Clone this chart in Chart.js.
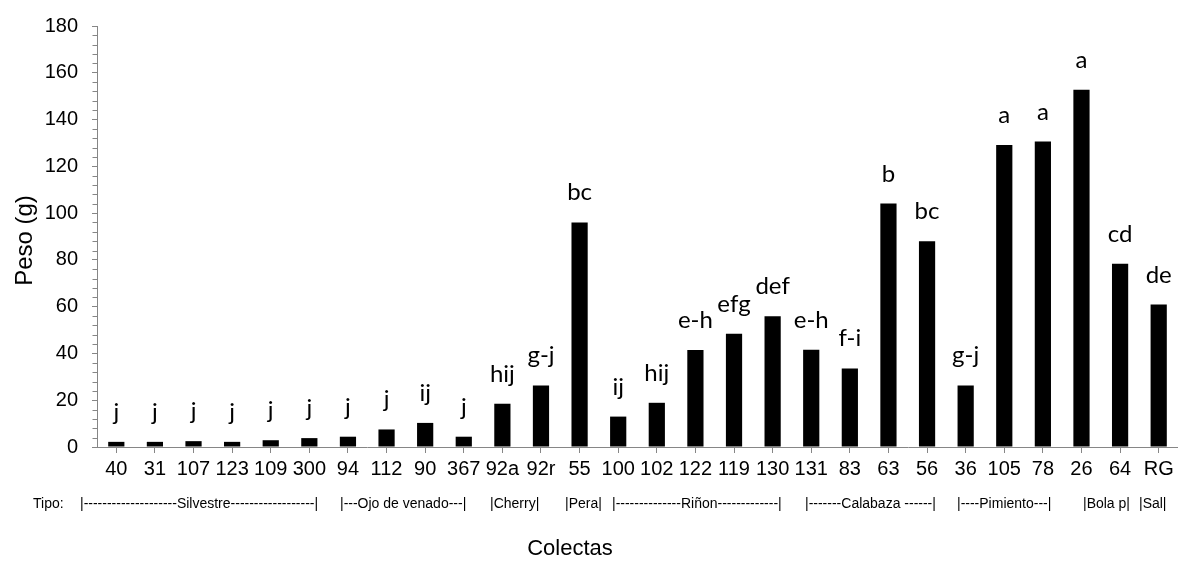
<!DOCTYPE html>
<html>
<head>
<meta charset="utf-8">
<script src="https://cdn.jsdelivr.net/npm/chart.js@4/dist/chart.umd.min.js"></script>
<style>
  html, body { margin: 0; padding: 0; background: #ffffff; }
  #wrap { width: 1178px; height: 564px; position: relative; }
</style>
</head>
<body>
<div id="wrap"><canvas id="grafico"></canvas></div>
<script>
// Colectas (accessions) on the x axis
const colectas = ['40','31','107','123','109','300','94','112','90','367','92a','92r','55',
  '100','102','122','119','130','131','83','63','56','36','105','78','26','64','RG'];

// Mean fruit weight (g) per accession
const peso = [2.2, 2.2, 2.5, 2.2, 2.9, 3.8, 4.4, 7.5, 10.3, 4.4, 18.5, 26.3, 96.0,
  13.0, 18.9, 41.5, 48.4, 55.9, 41.6, 33.6, 104.1, 88.0, 26.3, 129.1, 130.6, 152.7, 78.4, 60.9];

// Mean-separation letters printed above each bar
const letras = ['j','j','j','j','j','j','j','j','ij','j','hij','g-j','bc',
  'ij','hij','e-h','efg','def','e-h','f-i','b','bc','g-j','a','a','a','cd','de'];

// Fruit type row under the axis
const tipos = ['Tipo:', '|--------------------Silvestre------------------|', '|---Ojo de venado---|',
  '|Cherry|', '|Pera|', '|--------------Riñon-------------|', '|-------Calabaza ------|',
  '|----Pimiento---|', '|Bola p|', '|Sal|'];

// Value axis range
const yMin = 0, yMax = 180, yPaso = 20, yPasoMenor = 4;

const gris = '#868686';
const fuenteEje = 'Liberation Sans, Arial, sans-serif';
const fuenteLetras = 'Lato, Carlito, Calibri, sans-serif';

// Left edges of the fruit-type captions
const tipoX = [33, 80, 340, 490, 565, 612, 805, 957, 1083, 1139];

const extras = {
  id: 'extras',
  afterDraw(chart) {
    const ctx = chart.ctx;
    const y = chart.scales.y;
    const meta = chart.getDatasetMeta(0);
    ctx.save();

    // minor tick marks on the value axis
    ctx.strokeStyle = gris;
    ctx.lineWidth = 1;
    const ax = Math.round(chart.chartArea.left) + 0.5;
    for (let v = yMin; v <= yMax; v += yPasoMenor) {
      if (v % yPaso === 0) continue;
      const py = Math.round(y.getPixelForValue(v)) + 0.5;
      ctx.beginPath();
      ctx.moveTo(ax - 5, py);
      ctx.lineTo(ax, py);
      ctx.stroke();
    }

    // letters above bars
    ctx.fillStyle = '#000';
    ctx.font = '24px ' + fuenteLetras;
    ctx.textAlign = 'center';
    ctx.textBaseline = 'alphabetic';
    meta.data.forEach((bar, i) => {
      ctx.fillText(letras[i], bar.x, bar.y - 22);
    });

    // fruit type row
    ctx.font = '14px ' + fuenteEje;
    ctx.textAlign = 'left';
    ctx.textBaseline = 'middle';
    tipos.forEach((t, i) => ctx.fillText(t, tipoX[i], 504));

    // axis titles
    ctx.font = '22px ' + fuenteEje;
    ctx.textAlign = 'center';
    ctx.fillText('Colectas', 570, 549);
    ctx.font = '24px ' + fuenteEje;
    ctx.translate(25, (chart.chartArea.top + chart.chartArea.bottom) / 2 + 4);
    ctx.rotate(-Math.PI / 2);
    ctx.fillText('Peso (g)', 0, 0);
    ctx.restore();
  }
};

new Chart(document.getElementById('grafico'), {
  type: 'bar',
  data: {
    labels: colectas,
    datasets: [{
      data: peso,
      backgroundColor: '#000000',
      borderWidth: 0,
      barPercentage: 0.42,
      categoryPercentage: 1.0
    }]
  },
  options: {
    responsive: true,
    maintainAspectRatio: false,
    animation: false,
    layout: { padding: { top: 22, right: 0, left: 0, bottom: 0 } },
    plugins: { legend: { display: false }, tooltip: { enabled: false } },
    scales: {
      x: {
        offset: true,
        grid: { offset: false, drawOnChartArea: false, drawTicks: true, tickLength: 6, color: gris },
        border: { color: gris, width: 1 },
        ticks: { color: '#000', font: { family: fuenteEje, size: 20 }, padding: 4, maxRotation: 0, autoSkip: false },
        afterFit(s) { s.height = 117; }
      },
      y: {
        min: yMin, max: yMax,
        grid: { drawOnChartArea: false, drawTicks: true, tickLength: 5, color: gris },
        border: { color: gris, width: 1 },
        ticks: { stepSize: yPaso, color: '#000', font: { family: fuenteEje, size: 20 }, padding: 14 },
        afterFit(s) { s.width = 97; }
      }
    }
  },
  plugins: [extras]
});
</script>
</body>
</html>
